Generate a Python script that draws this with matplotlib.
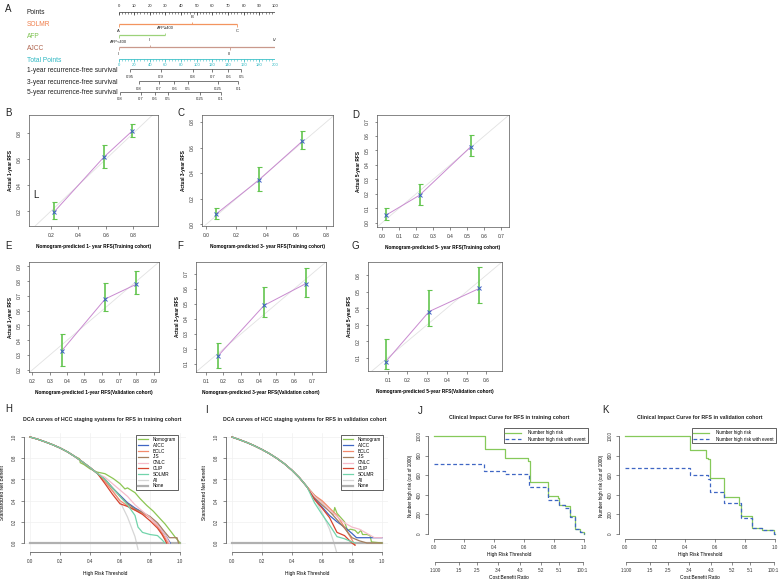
import numpy as np
import matplotlib
matplotlib.use("Agg")
import matplotlib.pyplot as plt

plt.rcParams['font.family'] = ['Liberation Sans', 'DejaVu Sans']

W, H = 784, 587

# ---- nomogram (A) ----
points_ticks = list(range(0, 101, 10))
solmr_levels = ['A', 'B', 'C']
solmr_pts = [0, 47, 76]
afp_levels = ['AFP<400', 'AFP\u2265400']
afp_pts = [0, 30]
ajcc_levels = ['I', 'II', 'III', 'IV']
ajcc_pts = [0, 20, 71, 100]
total_ticks = list(range(0, 201, 20))
rfs1_labels = ['0.95', '0.9', '0.8', '0.7', '0.6', '0.5']
rfs1_pts = [14.7, 53.7, 94.6, 119.8, 140.3, 156.9]
rfs3_labels = ['0.8', '0.7', '0.6', '0.5', '0.25', '0.1']
rfs3_pts = [26.2, 51.8, 71.3, 88.4, 126.7, 153]
rfs5_labels = ['0.8', '0.7', '0.6', '0.5', '0.25', '0.1']
rfs5_pts = [2, 28.8, 46.6, 62.9, 104, 131]

# ---- calibration (B-G) ----
b_pred = [0.22, 0.585, 0.79]
b_obs = [0.19, 0.615, 0.815]
b_lo = [0.14, 0.53, 0.77]
b_hi = [0.27, 0.71, 0.87]
c_pred = [0.065, 0.35, 0.64]
c_obs = [0.08, 0.345, 0.65]
c_lo = [0.04, 0.26, 0.59]
c_hi = [0.13, 0.45, 0.73]
d_pred = [0.02, 0.22, 0.52]
d_obs = [0.05, 0.19, 0.525]
d_lo = [0.02, 0.12, 0.46]
d_hi = [0.10, 0.27, 0.61]
e_pred = [0.37, 0.62, 0.80]
e_obs = [0.33, 0.68, 0.78]
e_lo = [0.225, 0.60, 0.71]
e_hi = [0.445, 0.785, 0.87]
f_pred = [0.17, 0.43, 0.665]
f_obs = [0.153, 0.49, 0.635]
f_lo = [0.07, 0.41, 0.545]
f_hi = [0.24, 0.61, 0.74]
g_pred = [0.09, 0.31, 0.565]
g_obs = [0.076, 0.38, 0.52]
g_lo = [0.03, 0.29, 0.43]
g_hi = [0.215, 0.51, 0.65]

# ---- DCA (H, I) ----
dca_models = ['Nomogram', 'AJCC', 'BCLC', 'JIS', 'CNLC', 'CLIP', 'SOLMR']
dca_colors = ['#8cc653', '#3f66c4', '#f28a6c', '#a47f5e', '#f6bccb', '#d6432f', '#72d4ab']
dca_none = ([0, 1], [0, 0])

h_head_t = [0, .05, .1, .15, .2, .25, .3, .35, .4, .45]
h_head_v = [1.0, .98, .955, .928, .897, .86, .815, .765, .712, .655]
h_all = ([.5, .55, .6, .65, .7, .72], [.585, .5, .39, .245, .06, -.06])
h_nomogram = ([.33, .335, .36, .4, .445, .5, .556, .6, .633, .65, .7, .733, .778, .822, .867, .9, .933, .967, 1.0],
              [.796, .758, .74, .70, .67, .654, .607, .56, .51, .52, .475, .42, .355, .3, .23, .18, .12, .057, 0])
h_ajcc = ([.5, .55, .6, .65, .7, .75, .8, .85, .9, .935], [.6, .52, .45, .38, .33, .29, .24, .17, .08, 0])
h_bclc = ([.5, .55, .6, .65, .7, .75, .8, .85, .9, .92], [.58, .49, .4, .35, .31, .28, .24, .16, .05, 0])
h_jis = ([.5, .55, .6, .65, .7, .75, .8, .85, .9, .93, .98, .99], [.6, .52, .44, .37, .32, .29, .25, .19, .1, .05, .05, 0])
h_cnlc = ([.5, .55, .6, .65, .7, .75, .8, .85, .9, .93], [.62, .56, .5, .44, .36, .3, .24, .17, .08, 0])
h_clip = ([.5, .55, .6, .65, .7, .75, .8, .85, .88, .9, .91], [.56, .46, .37, .345, .31, .27, .21, .14, .08, .03, 0])
h_solmr = ([.5, .55, .6, .65, .7, .72, .75, .8, .85, .88, .9], [.6, .52, .44, .36, .26, .15, .1, .08, .07, .03, 0])

i_head_t = [0, .05, .1, .15, .2, .25, .3, .35, .4, .45, .5]
i_head_v = [1.0, .975, .948, .917, .882, .843, .798, .747, .686, .615, .53]
i_all = ([.55, .6, .65, .68, .7], [.42, .29, .13, 0, -.1])
i_nomogram = ([.55, .6, .65, .675, .685, .7, .75, .77, .79, .82, .84, .86, .87, .9, .92, .93, 1.0],
              [.45, .38, .3, .27, .335, .28, .2, .12, .13, .12, .09, .12, .08, .08, .07, .01, 0])
i_ajcc = ([.55, .6, .65, .7, .75, .8, .83, 1.0], [.42, .34, .26, .2, .15, .09, .05, .05])
i_bclc = ([.55, .6, .65, .7, .75, .8, .82], [.45, .4, .33, .26, .15, .03, -.02])
i_jis = ([.55, .6, .65, .7, .75, .8, .85, .9, 1.0], [.43, .36, .3, .22, .14, .05, .02, 0, 0])
i_cnlc = ([.55, .6, .65, .7, .75, .8, .85, .9, .95, 1.0], [.44, .38, .31, .25, .19, .15, .13, .09, .05, .05])
i_clip = ([.55, .6, .65, .7, .75, .8, .82], [.41, .33, .24, .1, .07, 0, -.02])
i_solmr = ([.55, .6, .65, .7, .75, .8, .82], [.38, .27, .17, .06, .04, .01, 0])

# ---- clinical impact (J, K) ----
j_risk = ([0, .338, .471, .627, .637, .763, .827, .835, .87, .904, .94, .97, 1.0],
          [1000, 870, 780, 750, 530, 390, 370, 300, 285, 180, 50, 20, 0])
j_event = ([0, .333, .471, .633, .757, .827, .835, .87, .904, .94, .97, 1.0],
           [710, 645, 615, 480, 350, 330, 300, 270, 175, 50, 20, 0])
k_risk = ([0, .435, .543, .55, .565, .661, .763, .772, .845, .911, .99, 1.0],
          [1000, 860, 780, 770, 570, 380, 300, 180, 60, 40, 0, 0])
k_event = ([0, .435, .55, .565, .661, .772, .845, .911, .99, 1.0],
           [670, 600, 560, 430, 320, 165, 60, 40, 0, 0])
cb_ratio = [(1, 100), (1, 5), (2, 5), (3, 4), (4, 3), (5, 2), (5, 1), (100, 1)]


def rect(l, t, r, b):
    return [l / W, 1 - b / H, (r - l) / W, (b - t) / H]


def ftext(x, y, s, **kw):
    fig.text(x / W, 1 - y / H, s, **kw)


fig = plt.figure(figsize=(W / 100, H / 100), dpi=100)

# panel letters
for s, x, y in [('A', 5, 9), ('B', 5, 113), ('C', 178, 113), ('D', 352, 115), ('E', 5, 246),
                ('F', 177, 246), ('G', 352, 246), ('L', 33, 195), ('H', 5, 409), ('I', 205, 410),
                ('J', 418, 411), ('K', 602, 410)]:
    ftext(x, y, s, fontsize=7, va='center', ha='left', color='#222')

# ===== nomogram =====
ax_n = fig.add_axes(rect(118.5, 0, 275, 105))
ax_n.set_xlim(0, 100)
ax_n.set_ylim(105, 0)
ax_n.axis('off')
ax_t = fig.add_axes(rect(118.5, 0, 275, 105))
ax_t.set_xlim(0, 200)
ax_t.set_ylim(105, 0)
ax_t.axis('off')

row_y = {'Points': 12, 'SOLMR': 24, 'AFP': 35, 'AJCC': 47, 'Total Points': 59,
         '1-year recurrence-free survival': 69, '3-year recurrence-free survival': 81,
         '5-year recurrence-free survival': 92}
row_col = {'Points': '#222', 'SOLMR': '#f07f4b', 'AFP': '#7cc24f', 'AJCC': '#b0654f',
           'Total Points': '#2cb7c2'}
for name, y in row_y.items():
    ftext(27, y + 1, name, fontsize=4.8, va='center', color=row_col.get(name, '#222'))

# points scale
y = row_y['Points']
ax_n.hlines(y, 0, 100, color='#333', lw=0.5)
ax_n.vlines(np.arange(0, 101, 2), y, y + 1.5, color='#333', lw=0.4)
ax_n.vlines(points_ticks, y, y + 2.5, color='#333', lw=0.5)
for p in points_ticks:
    ax_n.text(p, y - 6, str(p), fontsize=3, ha='center', va='center', color='#222')

# categorical rows
for key, levels, pts, lc in [('SOLMR', solmr_levels, solmr_pts, '#f3945f'),
                             ('AFP', afp_levels, afp_pts, '#9cd27a'),
                             ('AJCC', ajcc_levels, ajcc_pts, '#c9998c')]:
    y = row_y[key]
    ax_n.hlines(y, min(pts), max(pts), color=lc, lw=0.9)
    for i, (lv, p) in enumerate(zip(levels, pts)):
        up = i % 2 == 1
        ax_n.vlines(p, y, y - 2.5 if up else y + 2.5, color=lc, lw=0.6)
        ax_n.text(p, y - 7 if up else y + 7, lv, fontsize=3, ha='center', va='center', color='#222')

# total points
y = row_y['Total Points']
ax_t.hlines(y, 0, 200, color='#3cc0c8', lw=0.6)
ax_t.vlines(np.arange(0, 201, 4), y, y + 1.5, color='#3cc0c8', lw=0.4)
ax_t.vlines(total_ticks, y, y + 2.5, color='#3cc0c8', lw=0.5)
for p in total_ticks:
    ax_t.text(p, y + 6, str(p), fontsize=3, ha='center', va='center', color='#2cb7c2')

# survival rows
for key, labs, pts in [('1-year recurrence-free survival', rfs1_labels, rfs1_pts),
                       ('3-year recurrence-free survival', rfs3_labels, rfs3_pts),
                       ('5-year recurrence-free survival', rfs5_labels, rfs5_pts)]:
    y = row_y[key]
    ax_t.hlines(y, min(pts), max(pts), color='#444', lw=0.5)
    ax_t.vlines(pts, y, y + 2.5, color='#444', lw=0.5)
    for lb, p in zip(labs, pts):
        ax_t.text(p, y + 7.5, lb, fontsize=3, ha='center', va='center', color='#222')


# ===== calibration =====
def cal_panel(box, lims, ticks, pred, obs, lo, hi, xlab, ylab):
    ax = fig.add_axes(rect(*box))
    ax.axline((0, 0), slope=1, color='#e2e2e2', lw=0.6)
    ax.plot(pred, obs, color='#c98ad0', lw=0.7)
    ax.errorbar(pred, obs, yerr=[np.subtract(obs, lo), np.subtract(hi, obs)], fmt='none',
                ecolor='#63c54f', elinewidth=1.2, capsize=1.8, capthick=0.8)
    ax.plot(pred, obs, 'x', color='#3b5fc4', ms=2.5, mew=0.7)
    ax.set_xlim(lims[0])
    ax.set_ylim(lims[1])
    ax.set_xticks(ticks[0])
    ax.set_xticklabels([f'{v:.1f}' for v in ticks[0]])
    ax.set_yticks(ticks[1])
    ax.set_yticklabels([f'{v:.1f}' for v in ticks[1]], rotation=90, va='center')
    ax.tick_params(labelsize=3.5, length=1.8, width=0.4, pad=3.3, colors='#333')
    ax.set_xlabel(xlab, fontsize=3.4, fontweight='bold', labelpad=4.3)
    ax.set_ylabel(ylab, fontsize=3.4, fontweight='bold', labelpad=3)
    for s in ax.spines.values():
        s.set_linewidth(0.5)
        s.set_color('#555')


cal_panel((29, 115, 158, 226), ((0.04, 0.98), (0.085, 0.94)),
          ([.2, .4, .6, .8], [.2, .4, .6, .8]), b_pred, b_obs, b_lo, b_hi,
          'Nomogram-predicted 1- year RFS(Training cohort)', 'Actual 1-year RFS')
cal_panel((202, 115, 333, 226), ((-0.03, 0.845), (-0.015, 0.855)),
          ([0, .2, .4, .6, .8], [0, .2, .4, .6, .8]), c_pred, c_obs, c_lo, c_hi,
          'Nomogram-predicted 3- year RFS(Training cohort)', 'Actual 3-year RFS')
cal_panel((377, 115, 509, 227), ((-0.03, 0.745), (-0.03, 0.745)),
          (np.arange(0, .71, .1), np.arange(0, .71, .1)), d_pred, d_obs, d_lo, d_hi,
          'Nomogram-predicted 5- year RFS(Training cohort)', 'Actual 5-year RFS')
cal_panel((29, 262, 159, 372), ((0.18, 0.93), (0.185, 0.93)),
          (np.arange(.2, .91, .1), np.arange(.2, .91, .1)), e_pred, e_obs, e_lo, e_hi,
          'Nomogram-predicted 1-year RFS(Validation cohort)', 'Actual 1-year RFS')
cal_panel((196, 262, 326, 372), ((0.045, 0.78), (0.045, 0.78)),
          (np.arange(.1, .71, .1), np.arange(.1, .71, .1)), f_pred, f_obs, f_lo, f_hi,
          'Nomogram-predicted 3-year RFS(Validation cohort)', 'Actual 3-year RFS')
cal_panel((368, 262, 502, 371), ((0.0, 0.68), (0.02, 0.68)),
          (np.arange(.1, .61, .1), np.arange(.1, .61, .1)), g_pred, g_obs, g_lo, g_hi,
          'Nomogram-predicted 5-year RFS(Validation cohort)', 'Actual 5-year RFS')


# ===== DCA =====
def join(head_t, head_v, tail):
    tt, vv = tail
    t = [x for x in head_t if x < tt[0]] + list(tt)
    v = [y for x, y in zip(head_t, head_v) if x < tt[0]] + list(vv)
    return t, v


def r_axes(ax, ylo, yhi):
    for s in ['top', 'right']:
        ax.spines[s].set_visible(False)
    ax.spines['left'].set_bounds(ylo, yhi)
    ax.spines['bottom'].set_bounds(0, 1)
    for s in ['left', 'bottom']:
        ax.spines[s].set_linewidth(0.5)
        ax.spines[s].set_color('#444')
    ax.tick_params(labelsize=3.3, length=2, width=0.4, pad=3, colors='#333')


def dca_panel(box, title, tx, head_t, head_v, all_tail, tails, leg_xy):
    ax = fig.add_axes(rect(*box))
    ax.set_xlim(-0.04, 1.04)
    ax.set_ylim(-0.085, 1.038)
    ax.grid(True, color='#f0f0f0', lw=0.5)
    ax.set_axisbelow(True)
    handles = []
    t, v = join(head_t, head_v, all_tail)
    h_all_line, = ax.plot(t, v, color='#d6d6d6', lw=0.9)
    h_none_line, = ax.plot(*dca_none, color='#b0b0b0', lw=1.6)
    for name, col, tail in zip(dca_models, dca_colors, tails):
        t, v = join(head_t, head_v, tail)
        ln, = ax.plot(t, v, color=col, lw=0.9)
        handles.append(ln)
    handles += [h_all_line, h_none_line]
    r_axes(ax, 0, 1)
    ax.set_xticks(np.arange(0, 1.01, .2))
    ax.set_xticklabels([f'{v:.1f}' for v in np.arange(0, 1.01, .2)])
    ax.set_yticks(np.arange(0, 1.01, .2))
    ax.set_yticklabels([f'{v:.1f}' for v in np.arange(0, 1.01, .2)], rotation=90, va='center')
    ax.set_xlabel('High Risk Threshold', fontsize=3.5, labelpad=5)
    ax.set_ylabel('Standardized Net Benefit', fontsize=3.5, labelpad=5)
    leg = ax.legend(handles, dca_models + ['All', 'None'], fontsize=3.3, loc='upper right',
                    bbox_to_anchor=(leg_xy[0] / W, 1 - leg_xy[1] / H), bbox_transform=fig.transFigure,
                    fancybox=False, edgecolor='#222', framealpha=1, handlelength=2.3,
                    labelspacing=0.18, borderpad=0.35, handletextpad=1.0)
    leg.get_frame().set_linewidth(0.5)
    ftext(tx, 420, title, fontsize=3.8, fontweight='bold', ha='center', va='center', color='#222')


dca_panel((24, 433, 186, 552), 'DCA curves of HCC staging systems for RFS in training cohort', 102,
          h_head_t, h_head_v, h_all,
          [h_nomogram, h_ajcc, h_bclc, h_jis, h_cnlc, h_clip, h_solmr], (180, 433))
dca_panel((226, 433, 388, 552), 'DCA curves of HCC staging systems for RFS in validation cohort', 305,
          i_head_t, i_head_v, i_all,
          [i_nomogram, i_ajcc, i_bclc, i_jis, i_cnlc, i_clip, i_solmr], (385, 433))


# ===== clinical impact =====
def cic_panel(box, title, tx, risk, event, leg_xy):
    l, t, r, b = box
    ax = fig.add_axes(rect(*box))
    ax.set_xlim(-0.04, 1.04)
    ax.set_ylim(-51, 1041)
    h1, = ax.plot(*risk, drawstyle='steps-post', color='#86c95a', lw=0.9)
    h2, = ax.plot(*event, drawstyle='steps-post', color='#3f66c4', lw=0.9, ls=(0, (3, 2)))
    r_axes(ax, 0, 1000)
    ax.set_xticks(np.arange(0, 1.01, .2))
    ax.set_xticklabels([f'{v:.1f}' for v in np.arange(0, 1.01, .2)])
    ax.set_yticks(np.arange(0, 1001, 200))
    ax.set_yticklabels([str(v) for v in range(0, 1001, 200)], rotation=90, va='center')
    ax.tick_params(pad=2.5)
    ax.set_xlabel('High Risk Threshold', fontsize=3.5, labelpad=1.5)
    ax.set_ylabel('Number high risk (out of 1000)', fontsize=3.3, labelpad=2.5)
    leg = ax.legend([h1, h2], ['Number high risk', 'Number high risk with event'], fontsize=3.3,
                    loc='upper right', bbox_to_anchor=(leg_xy[0] / W, 1 - leg_xy[1] / H),
                    bbox_transform=fig.transFigure, fancybox=False, edgecolor='#222',
                    framealpha=1, handlelength=3.5, labelspacing=0.3, borderpad=0.4, handletextpad=1.5)
    leg.get_frame().set_linewidth(0.5)
    # cost:benefit axis
    ax2 = fig.add_axes(rect(l, b + 3, r, b + 23))
    ax2.set_xlim(-0.04, 1.04)
    ax2.patch.set_visible(False)
    for s in ['top', 'right', 'left']:
        ax2.spines[s].set_visible(False)
    ax2.set_yticks([])
    pos = [c / (c + bn) for c, bn in cb_ratio]
    ax2.spines['bottom'].set_bounds(min(pos), max(pos))
    ax2.spines['bottom'].set_linewidth(0.5)
    ax2.spines['bottom'].set_color('#444')
    ax2.set_xticks(pos)
    ax2.set_xticklabels([f'{c}:{bn}' for c, bn in cb_ratio])
    ax2.tick_params(labelsize=3.3, length=2, width=0.4, pad=2.5, colors='#333')
    ax2.set_xlabel('Cost:Benefit Ratio', fontsize=3.5, labelpad=1.5)
    ftext(tx, 418, title, fontsize=3.8, fontweight='bold', ha='center', va='center', color='#222')


cic_panel((428, 432, 590, 539), 'Clinical Impact Curve for RFS in training cohort', 509,
          j_risk, j_event, (590, 426))
cic_panel((619, 432, 781, 539), 'Clinical Impact Curve for RFS in validation cohort', 700,
          k_risk, k_event, (778, 426))

fig.savefig('out.png', dpi=100)
